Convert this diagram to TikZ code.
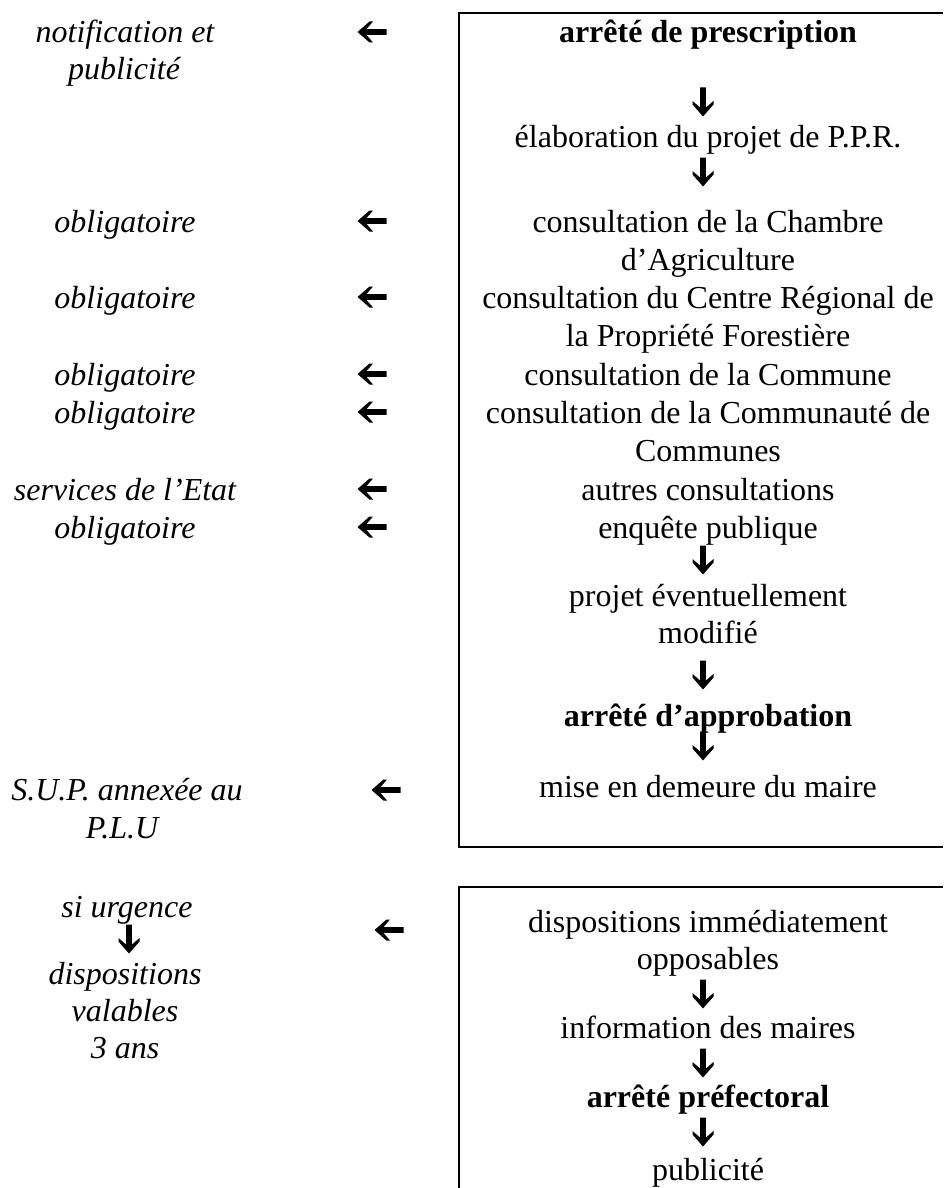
\documentclass[tikz,border=0pt]{standalone}
\usepackage{fontspec}
\setmainfont{Liberation Serif}
\begin{document}
\begin{tikzpicture}[
  x=1pt,y=1pt,
  txt/.style={anchor=base, inner sep=0pt, font=\fontsize{32}{37}\selectfont},
  lt/.style={txt, font=\fontsize{32}{37}\selectfont\itshape},
  bt/.style={txt, font=\fontsize{32}{37}\selectfont\bfseries},
  boxline/.style={line width=2pt},
  pics/darr/.style={code={\fill (0,-14.5) -- (10.5,-2.5) -- (10.5,1) -- (2.9,-5.5) -- (2.9,14.5) -- (-2.9,14.5) -- (-2.9,-5.5) -- (-10.5,1) -- (-10.5,-2.5) -- cycle;}},
  pics/larr/.style={code={\pic[rotate=-90] {darr};}}
]
\useasboundingbox (0,0) rectangle (943,-1188);
% boxes
\coordinate (b1tl) at (459,-12.7);
\coordinate (b1tr) at (943,-12.7);
\coordinate (b1bl) at (459,-847);
\coordinate (b1br) at (943,-847);
\draw[boxline] (b1tr) -- (b1tl) -- (b1bl) -- (b1br);
\coordinate (b2tl) at (459,-887);
\coordinate (b2tr) at (943,-887);
\coordinate (b2bl) at (459,-1188);
\draw[boxline] (b2tr) -- (b2tl) -- (b2bl);
% right column
\node[bt] (r1) at (708,-43) {arrêté de prescription};
\pic at (703,-102) {darr};
\node[txt] (r2) at (708,-147) {élaboration du projet de P.P.R.};
\pic at (703,-172) {darr};
\node[txt] (r3) at (708,-232) {consultation de la Chambre};
\node[txt] (r4) at (708,-270) {d’Agriculture};
\node[txt] (r5) at (708,-308) {consultation du Centre Régional de};
\node[txt] (r6) at (708,-346) {la Propriété Forestière};
\node[txt] (r7) at (708,-385) {consultation de la Commune};
\node[txt] (r8) at (708,-423) {consultation de la Communauté de};
\node[txt] (r9) at (708,-461) {Communes};
\node[txt] (r10) at (708,-500) {autres consultations};
\node[txt] (r11) at (708,-538) {enquête publique};
\pic at (703,-560) {darr};
\node[txt] (r12) at (708,-606) {projet éventuellement};
\node[txt] (r13) at (708,-643) {modifié};
\pic at (703,-675) {darr};
\node[bt] (r14) at (708,-726) {arrêté d’approbation};
\pic at (703,-746) {darr};
\node[txt] (r15) at (708,-797) {mise en demeure du maire};
\node[txt] (r16) at (708,-932) {dispositions immédiatement};
\node[txt] (r17) at (708,-969) {opposables};
\pic at (703,-994) {darr};
\node[txt] (r18) at (708,-1038) {information des maires};
\pic at (703,-1063) {darr};
\node[bt] (r19) at (708,-1107) {arrêté préfectoral};
\pic at (703,-1132) {darr};
\node[txt] (r20) at (708,-1180) {publicité};
% left column
\node[lt] (l1) at (125,-43) {notification et};
\node[lt] (l2) at (124,-80) {publicité};
\pic at (372,-32) {larr};
\node[lt] (l3) at (125,-232) {obligatoire};
\pic at (372,-221) {larr};
\node[lt] (l4) at (125,-308) {obligatoire};
\pic at (372,-297) {larr};
\node[lt] (l5) at (125,-385) {obligatoire};
\pic at (372,-374) {larr};
\node[lt] (l6) at (125,-423) {obligatoire};
\pic at (372,-412) {larr};
\node[lt] (l7) at (125,-500) {services de l’Etat};
\pic at (372,-489) {larr};
\node[lt] (l8) at (125,-538) {obligatoire};
\pic at (372,-527) {larr};
\node[lt] (l9) at (127,-800) {S.U.P. annexée au};
\node[lt] (l10) at (122,-838) {P.L.U};
\pic at (386,-790) {larr};
\node[lt] (l11) at (127,-917) {si urgence};
\pic at (389,-930) {larr};
\pic at (129,-939) {darr};
\node[lt] (l12) at (125,-984) {dispositions};
\node[lt] (l13) at (125,-1021) {valables};
\node[lt] (l14) at (125,-1058) {3 ans};
\end{tikzpicture}
\end{document}
